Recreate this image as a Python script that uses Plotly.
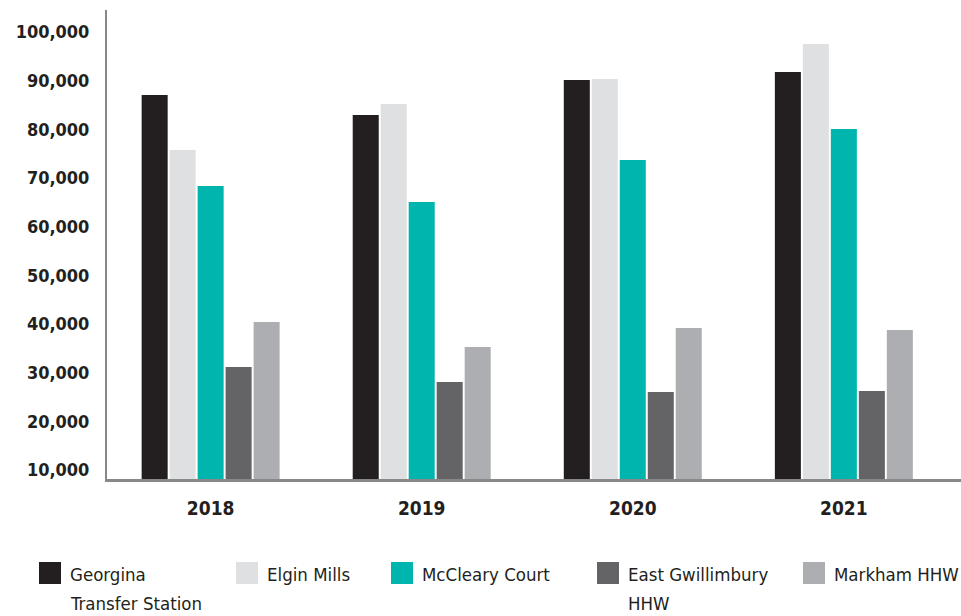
import plotly.graph_objects as go

years = ["2018", "2019", "2020", "2021"]
series_names = ["Georgina Transfer Station", "Elgin Mills", "McCleary Court",
                "East Gwillimbury HHW", "Markham HHW"]
legend_lines = [["Georgina", "Transfer Station"], ["Elgin Mills"], ["McCleary Court"],
                ["East Gwillimbury", "HHW"], ["Markham HHW"]]
georgina = [87040, 82930, 90120, 91760]
elgin = [75740, 85190, 90330, 97510]
mccleary = [68350, 65060, 73690, 80060]
east_gwill = [31170, 28090, 26040, 26250]
markham = [40420, 35280, 39180, 38770]
colors = ["#231f20", "#dfe0e2", "#00b5ad", "#646466", "#adaeb1"]
y_ticks = [10000, 20000, 30000, 40000, 50000, 60000, 70000, 80000, 90000, 100000]

FONT = "DejaVu Sans Condensed, Liberation Sans Narrow, Roboto Condensed, DejaVu Sans"

W, H = 961, 616
ML, MR, MT, MB = 107, 0, 10, 137
PW, PH = W - ML - MR, H - MT - MB

fig = go.Figure()
for name, vals, col in zip(series_names, [georgina, elgin, mccleary, east_gwill, markham], colors):
    fig.add_trace(go.Bar(x=years, y=vals, name=name,
                         marker=dict(color=col, line=dict(width=0)), showlegend=False))

# manual legend (pixel positions converted to paper coords)
def px2x(px):
    return (px - ML) / PW

def py2y(py):
    return (H - MB - py) / PH

legend_left = [39, 236, 391, 597, 803]
line_centers = [574, 603]
shapes = []
annotations = []
for lines, col, lx in zip(legend_lines, colors, legend_left):
    shapes.append(dict(type="rect", xref="paper", yref="paper",
                       x0=px2x(lx), x1=px2x(lx + 22), y0=py2y(584), y1=py2y(562),
                       fillcolor=col, line=dict(width=0)))
    for txt, yc in zip(lines, line_centers):
        annotations.append(dict(xref="paper", yref="paper", x=px2x(lx + 29), y=py2y(yc),
                                xanchor="left", yanchor="middle", align="left", showarrow=False,
                                text=txt, font=dict(family=FONT, size=18.5, color="#231f20")))

fig.update_layout(
    width=W, height=H,
    margin=dict(l=ML, r=MR, t=MT, b=MB, pad=0),
    paper_bgcolor="white", plot_bgcolor="white",
    barmode="group", bargap=0.337, bargroupgap=0.07,
    showlegend=False,
    shapes=shapes, annotations=annotations,
    xaxis=dict(type="category", range=[-0.491, 3.555], showline=True, linecolor="#88888b",
               linewidth=2.5, showgrid=False, zeroline=False, ticks="",
               ticklabelstandoff=10,
               tickfont=dict(family=FONT, size=19, weight="bold", color="#231f20")),
    yaxis=dict(range=[8170, 104500], tickvals=y_ticks, tickformat=",", showline=True,
               linecolor="#88888b", linewidth=2, showgrid=False, zeroline=False, ticks="",
               ticklabelstandoff=12,
               tickfont=dict(family=FONT, size=18, weight="bold", color="#231f20")),
)

fig.write_html("out.html", config={"displayModeBar": False},
               post_script="document.body.style.margin='0px'; document.body.style.overflow='hidden';")
